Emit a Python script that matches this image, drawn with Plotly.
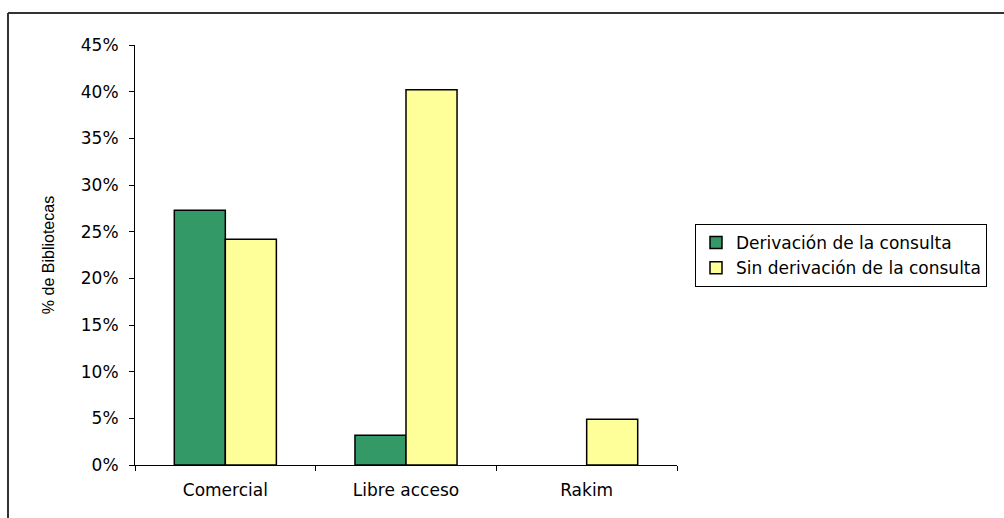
import plotly.graph_objects as go

categories = ["Comercial", "Libre acceso", "Rakim"]
derivacion = [27.3, 3.2, 0.0]
sin_derivacion = [24.2, 40.2, 4.9]
series_names = ["Derivación de la consulta", "Sin derivación de la consulta"]
y_ticks = [0, 5, 10, 15, 20, 25, 30, 35, 40, 45]

W, H = 1004, 518
L, R, T, B = 135, 327, 45, 53

fig = go.Figure()
fig.add_trace(go.Bar(
    x=categories, y=[v / 100 for v in derivacion], name=series_names[0],
    marker=dict(color="#339966",
                line=dict(color="#000000", width=[1.5 if v > 0 else 0 for v in derivacion])),
))
fig.add_trace(go.Bar(
    x=categories, y=[v / 100 for v in sin_derivacion], name=series_names[1],
    marker=dict(color="#FFFF99",
                line=dict(color="#000000", width=[1.5 if v > 0 else 0 for v in sin_derivacion])),
))

pw = W - L - R
ph = H - T - B
def px(x):
    return (x - L) / pw
def py(y):
    return (H - B - y) / ph

FONT = "DejaVu Sans, Liberation Sans, Arial"

fig.update_layout(
    width=W, height=H,
    margin=dict(l=L, r=R, t=T, b=B),
    paper_bgcolor="white", plot_bgcolor="white",
    barmode="group", bargap=0.435, bargroupgap=0,
    font=dict(family=FONT, size=17, color="#000000"),
    showlegend=True,
    legend=dict(
        x=px(695), y=py(224), xanchor="left", yanchor="top",
        bordercolor="#000000", borderwidth=1, bgcolor="white",
        font=dict(size=17), tracegroupgap=0, itemwidth=30,
    ),
    xaxis=dict(
        showline=True, linecolor="#000000", linewidth=1,
        ticks="outside", ticklen=5, tickcolor="#000000", tickson="boundaries",
        showgrid=False, tickfont=dict(size=17), fixedrange=True,
        ticklabelstandoff=10,
    ),
    yaxis=dict(
        range=[0, 0.45], tickvals=[v / 100 for v in y_ticks],
        ticktext=[f"{v}%" for v in y_ticks],
        showline=True, linecolor="#000000", linewidth=1,
        ticks="outside", ticklen=5, tickcolor="#000000",
        showgrid=False, zeroline=False, tickfont=dict(size=17),
        ticklabelstandoff=7,
        title=dict(text="% de Bibliotecas",
                   font=dict(family="Liberation Sans, Arial", size=16), standoff=22),
    ),
    shapes=[
        dict(type="line", xref="paper", yref="paper",
             x0=px(8), x1=px(1010), y0=py(13), y1=py(13),
             line=dict(color="#333333", width=2)),
        dict(type="line", xref="paper", yref="paper",
             x0=px(8), x1=px(8), y0=py(13), y1=py(530),
             line=dict(color="#333333", width=2)),
    ],
)

fig.write_html("out.html")
